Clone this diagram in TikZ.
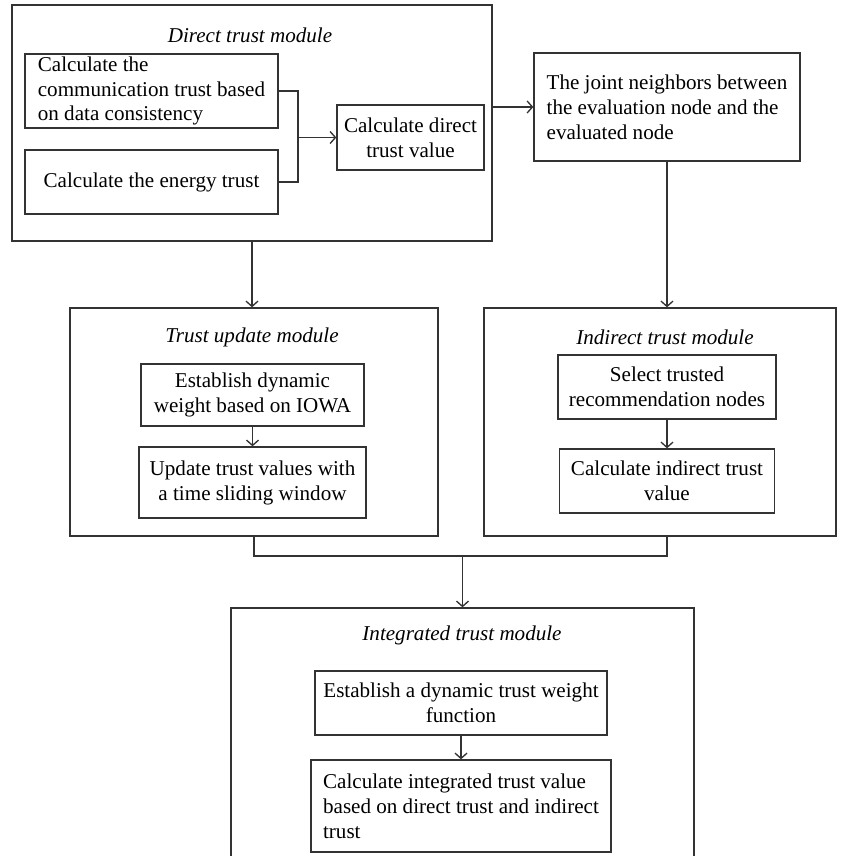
\documentclass[tikz,border=0pt]{standalone}
\usepackage{fontspec}
\setmainfont{Liberation Serif}
\usetikzlibrary{arrows.meta}

\begin{document}
\begin{tikzpicture}[x=0.3mm, y=-0.3mm, line width=0.4mm, draw=black!80,
		box/.style = {draw, rectangle, inner sep=0pt, font=\fontsize{18}{21.3}\selectfont},
		title/.style = {font=\fontsize{18}{21.3}\selectfont\itshape},
		arr/.style = {-{Straight Barb[length=1.6mm, width=3.6mm]}}]

		\useasboundingbox (0,0) rectangle (841,856);
		\clip (0,0) rectangle (841,856);

		% direct trust module
		\node[box, minimum width=144mm, minimum height=70.8mm] (dtm) at (252,123) {};
		\node[title] (dtmt) at (250,35) {Direct trust module};
		\node[box, minimum width=75.9mm, minimum height=22.2mm, align=left] (comm) at (151.5,91) {Calculate the\\communication trust based\\on data consistency};
		\node[box, minimum width=75.9mm, minimum height=19.2mm] (energy) at (151.5,182) {Calculate the energy trust};
		\node[box, minimum width=44.1mm, minimum height=19.5mm, align=center] (dval) at (410.5,137.5) {Calculate direct\\trust value};
		\coordinate (jn) at (298,137.5);

		\node[box, minimum width=79.8mm, minimum height=32.4mm, align=left] (joint) at (667,107) {The joint neighbors between\\the evaluation node and the\\evaluated node};

		% trust update module
		\node[box, minimum width=110.4mm, minimum height=68.4mm] (tum) at (254,422) {};
		\node[title] (tumt) at (252,337) {Trust update module};
		\node[box, minimum width=66.9mm, minimum height=18.6mm, align=center] (iwa) at (252.5,395) {Establish dynamic\\weight based on IOWA};
		\node[box, minimum width=68.1mm, minimum height=21.3mm, align=center] (upd) at (252.5,482.5) {Update trust values with\\a time sliding window};

		% indirect trust module
		\node[box, minimum width=105.6mm, minimum height=68.4mm] (itm) at (660,422) {};
		\node[title] (itmt) at (665,337) {Indirect trust module};
		\node[box, minimum width=65.4mm, minimum height=19.2mm, align=center] (sel) at (667,387) {Select trusted\\recommendation nodes};
		\node[box, minimum width=64.5mm, minimum height=19.2mm, align=center] (cind) at (667,481) {Calculate indirect trust\\value};

		% integrated trust module
		\node[box, minimum width=138.9mm, minimum height=85.5mm] (intm) at (462.5,750.5) {};
		\coordinate (mg) at (462.5,556);
		\node[title] (intmt) at (462,635) {Integrated trust module};
		\node[box, minimum width=87.6mm, minimum height=19.2mm, align=center] (dyn) at (461,703) {Establish a dynamic trust weight\\function};
		\node[box, minimum width=90mm, minimum height=27.6mm, align=left] (cint) at (461,806) {Calculate integrated trust value\\based on direct trust and indirect\\trust};

		\draw (comm.east) -| (jn) |- (energy.east);
		\draw[arr] (jn) -- (dval.west);
		\draw[arr] (joint.west -| dtm.east) -- (joint.west);
		\draw[arr] (dtm.south) -- (dtm.south |- tum.north);
		\draw[arr] (joint.south) -- (joint.south |- itm.north);
		\draw[arr] (iwa.south) -- (iwa.south |- upd.north);
		\draw[arr] (sel.south) -- (sel.south |- cind.north);
		\draw (tum.south) |- (mg);
		\draw (itm.south -| sel.south) |- (mg);
		\draw[arr] (mg) -- (intm.north);
		\draw[arr] (dyn.south) -- (dyn.south |- cint.north);
	\end{tikzpicture}
\end{document}
